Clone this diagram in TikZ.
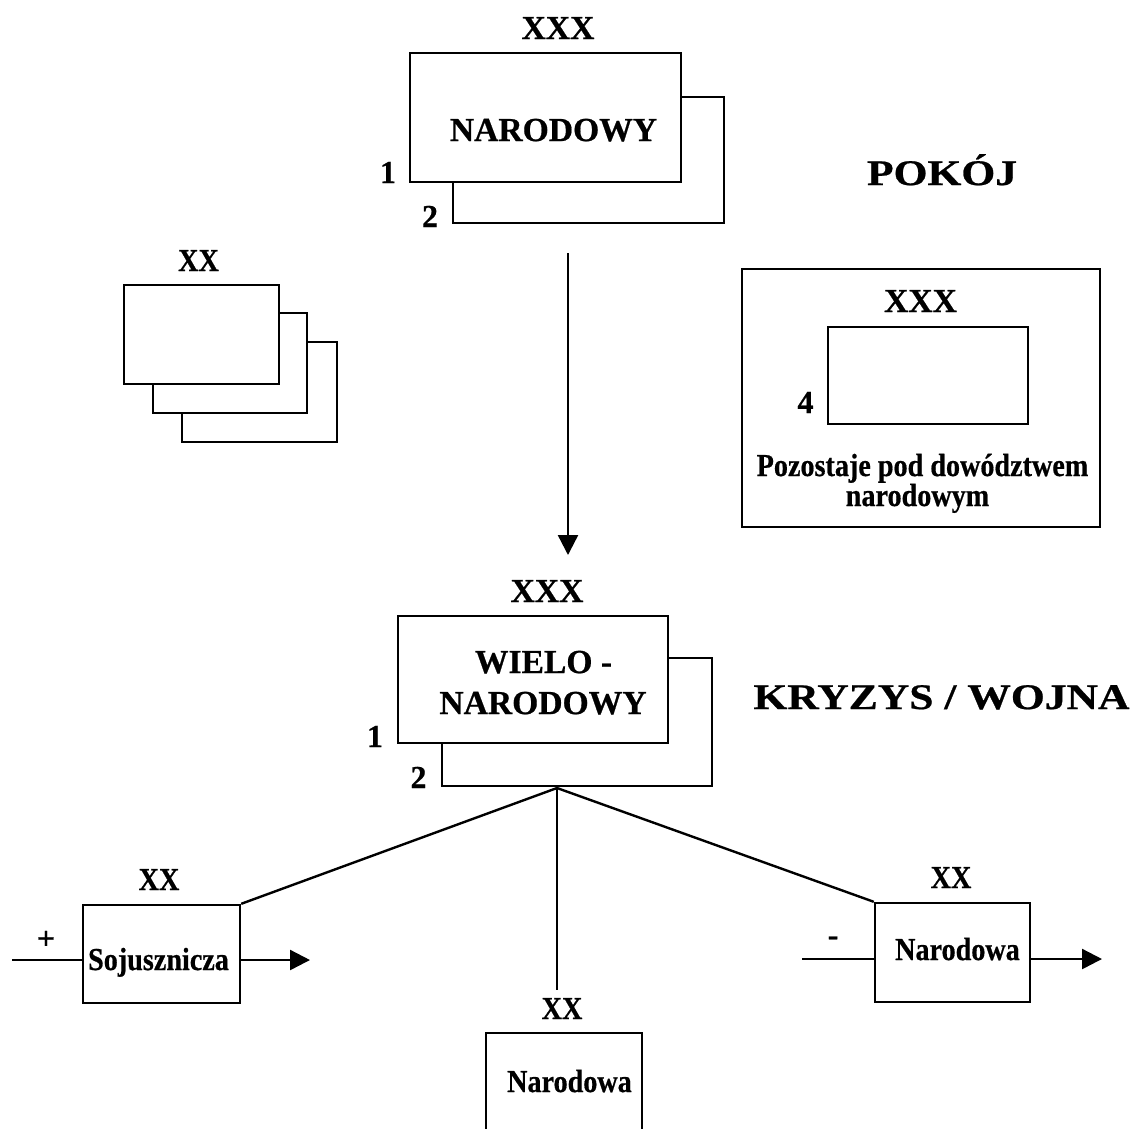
\documentclass[tikz,border=0pt]{standalone}
\usepackage{fontspec}
\usepackage{graphicx}
\setmainfont{Liberation Serif}[BoldFeatures={FakeBold=0.6}]
\usetikzlibrary{arrows.meta}

% narrow and wide variants of the bold lettering
\newcommand{\narrowtxt}[1]{\scalebox{0.88}[1]{#1}}
\newcommand{\widetxt}[1]{\scalebox{1.21}[1]{#1}}

\tikzset{
  unitbox/.style={draw, line width=2.4pt, fill=white, inner sep=0pt},
  lbl/.style={font=\fontsize{32}{32}\selectfont\bfseries, inner sep=0pt, anchor=base},
  caps/.style={lbl, font=\fontsize{33.6}{33.6}\selectfont\bfseries},
  head/.style={lbl, font=\fontsize{36}{36}\selectfont\bfseries},
  conn/.style={line width=2.4pt},
  arr/.style={line width=2.4pt, -{Triangle[length=20pt,width=20pt]}},
}

\begin{document}
\begin{tikzpicture}[x=1pt, y=-1pt]
\clip (0,0) rectangle (1134,1128);
\fill[white] (0,0) rectangle (1134,1128);

% national corps (peace)
\node[unitbox, minimum width=271pt, minimum height=126pt] (natback) at (588.5,160) {};
\node[unitbox, minimum width=271pt, minimum height=129pt] (natfront) at (545.5,117.5) {};
\node[caps] (natxxx) at (558,39) {XXX};
\node[caps] (nattxt) at (553.5,141) {NARODOWY};
\node[lbl] (nat1) at (388,183) {1};
\node[lbl] (nat2) at (430,227) {2};

% stack of divisions
\node[unitbox, minimum width=155pt, minimum height=100pt] (div3) at (259.5,392) {};
\node[unitbox, minimum width=154pt, minimum height=100pt] (div2) at (230,363) {};
\node[unitbox, minimum width=155pt, minimum height=99pt] (div1) at (201.5,334.5) {};
\node[lbl] (divxx) at (198.5,271) {\narrowtxt{XX}};

% peace heading
\node[head] (peace) at (942,185) {\widetxt{POKÓJ}};

% corps under national command
\node[unitbox, minimum width=358pt, minimum height=258pt] (natcmd) at (921,398) {};
\node[unitbox, minimum width=200pt, minimum height=97pt] (corps4) at (928,375.5) {};
\node[caps] (c4xxx) at (920.5,312) {XXX};
\node[lbl] (c4num) at (805.5,413) {4};
\node[lbl] (c4line1) at (922.5,476) {\narrowtxt{Pozostaje pod dowództwem}};
\node[lbl] (c4line2) at (917.5,506) {\narrowtxt{narodowym}};

% multinational corps (crisis / war)
\node[unitbox, minimum width=270pt, minimum height=128pt] (multback) at (577,722) {};
\node[unitbox, minimum width=270pt, minimum height=127pt] (multfront) at (533,679.5) {};
\node[caps] (multxxx) at (547,602) {XXX};
\node[caps] (multtxt1) at (543.5,673) {WIELO -};
\node[caps] (multtxt2) at (543,714) {NARODOWY};
\node[lbl] (mult1) at (375,747) {1};
\node[lbl] (mult2) at (418.5,788) {2};

\node[head] (war) at (941.5,709) {\widetxt{KRYZYS / WOJNA}};

% divisions assigned in crisis
\node[unitbox, minimum width=157pt, minimum height=98pt] (allied) at (161.5,954) {};
\node[lbl] (alliedxx) at (159,890) {\narrowtxt{XX}};
\node[lbl] (alliedtxt) at (158.5,970) {\narrowtxt{Sojusznicza}};
\node[lbl, anchor=center] (plus) at (46,940) {+};

\node[unitbox, minimum width=155pt, minimum height=99pt] (natR) at (952.5,952.5) {};
\node[lbl] (natRxx) at (951,888) {\narrowtxt{XX}};
\node[lbl] (natRtxt) at (957.5,960) {\narrowtxt{Narodowa}};
\node[lbl, anchor=center] (minus) at (833,941) {-};

\node[unitbox, minimum width=156pt, minimum height=127pt] (natB) at (564,1096.5) {};
\node[lbl] (natBxx) at (562,1019) {\narrowtxt{XX}};
\node[lbl] (natBtxt) at (569.5,1092) {\narrowtxt{Narodowa}};

% connectors
\coordinate (arrtop) at (568,253);
\coordinate (arrtip) at (568,555);
\draw[arr] (arrtop) -- (arrtip);

\coordinate (fan) at (557,788);
\coordinate (vend) at (557,990);
\draw[conn] (allied.north east) -- (fan) -- (natR.north west);
\draw[conn] (fan) -- (vend);

\coordinate (inL) at (12,960);
\coordinate (outL) at (310,960);
\draw[conn] (inL) -- (inL -| allied.west);
\draw[arr] (allied.east |- outL) -- (outL);

\coordinate (inR) at (802,959);
\coordinate (outR) at (1102,959);
\draw[conn] (inR) -- (inR -| natR.west);
\draw[arr] (natR.east |- outR) -- (outR);
\end{tikzpicture}
\end{document}
